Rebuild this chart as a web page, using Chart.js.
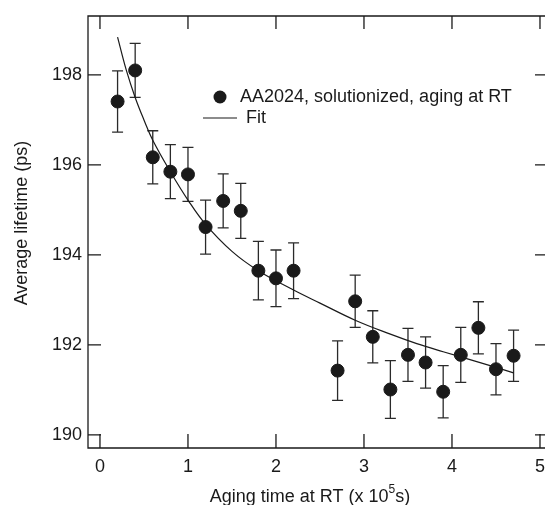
<!DOCTYPE html>
<html lang="en">
  <head>
    <meta charset="utf-8" />
    <title>Average lifetime vs aging time</title>
    <style>
      * {
        margin: 0;
        padding: 0;
      }
      body {
        background: white;
      }
      .chartBox {
        width: 545px;
        height: 505px;
      }
    </style>
  </head>
  <body>
    <div class="chartBox">
      <canvas id="myChart"></canvas>
    </div>

    <script src="https://cdn.jsdelivr.net/npm/chart.js@4.4.1/dist/chart.umd.min.js"></script>

    <script>
      // measured points (aging time in 1e5 s, lifetime in ps)
      const agingTime = [0.2, 0.4, 0.6, 0.8, 1.0, 1.2, 1.4, 1.6, 1.8, 2.0, 2.2,
        2.7, 2.9, 3.1, 3.3, 3.5, 3.7, 3.9, 4.1, 4.3, 4.5, 4.7];
      const lifetime = [197.41, 198.1, 196.17, 195.85, 195.79, 194.62, 195.2, 194.98, 193.65, 193.48, 193.65,
        191.43, 192.97, 192.18, 191.01, 191.78, 191.61, 190.96, 191.78, 192.38, 191.46, 191.76];
      const lifetimeErr = [0.68, 0.6, 0.59, 0.6, 0.6, 0.6, 0.6, 0.61, 0.65, 0.63, 0.62,
        0.66, 0.58, 0.58, 0.64, 0.59, 0.57, 0.58, 0.61, 0.58, 0.57, 0.57];

      // fit curve
      const fitTime = [0.2, 0.3, 0.4, 0.5, 0.6, 0.8, 1.0, 1.2, 1.5, 1.8, 2.2, 2.5, 2.9, 3.3, 3.6, 3.9, 4.3, 4.7];
      const fitLifetime = [198.84, 198.1, 197.5, 197.0, 196.55, 195.85, 195.22, 194.68, 194.08, 193.65,
        193.22, 192.93, 192.55, 192.24, 192.03, 191.85, 191.62, 191.38];

      const xTicks = [0, 1, 2, 3, 4, 5];
      const yTicks = [190, 192, 194, 196, 198];

      const seriesLabel = "AA2024, solutionized, aging at RT";
      const fitLabel = "Fit";

      const FONT = '"Liberation Sans", Arial, Helvetica, sans-serif';
      const SIZE = 18;
      const INK = "#1a1a1a";

      const data = {
        datasets: [
          {
            label: fitLabel,
            data: fitTime.map((x, i) => ({ x: x, y: fitLifetime[i] })),
            showLine: true,
            borderColor: INK,
            borderWidth: 1.2,
            pointRadius: 0,
            tension: 0.4,
            fill: false,
          },
          {
            label: seriesLabel,
            data: agingTime.map((x, i) => ({ x: x, y: lifetime[i] })),
            backgroundColor: INK,
            borderColor: INK,
            pointRadius: 6.5,
            pointHoverRadius: 6.5,
            showLine: false,
          },
        ],
      };

      // error bars drawn through the scales
      const errorBars = {
        id: "errorBars",
        beforeDatasetsDraw(chart) {
          const { ctx, scales } = chart;
          ctx.save();
          ctx.strokeStyle = "#2a2a2a";
          ctx.lineWidth = 1.3;
          agingTime.forEach((t, i) => {
            const x = scales.x.getPixelForValue(t);
            const yTop = scales.y.getPixelForValue(lifetime[i] + lifetimeErr[i]);
            const yBot = scales.y.getPixelForValue(lifetime[i] - lifetimeErr[i]);
            ctx.beginPath();
            ctx.moveTo(x, yTop);
            ctx.lineTo(x, yBot);
            ctx.moveTo(x - 5.5, yTop);
            ctx.lineTo(x + 5.5, yTop);
            ctx.moveTo(x - 5.5, yBot);
            ctx.lineTo(x + 5.5, yBot);
            ctx.stroke();
          });
          ctx.restore();
        },
      };

      // frame, inward ticks, axis titles and legend
      const frame = {
        id: "frame",
        afterDraw(chart) {
          const { ctx, chartArea: a, scales } = chart;
          ctx.save();
          ctx.strokeStyle = INK;
          ctx.lineWidth = 1.3;
          ctx.beginPath();
          ctx.moveTo(a.right, a.top);
          ctx.lineTo(a.left, a.top);
          ctx.lineTo(a.left, a.bottom);
          ctx.lineTo(a.right, a.bottom);
          xTicks.forEach((v) => {
            const x = scales.x.getPixelForValue(v);
            ctx.moveTo(x, a.bottom);
            ctx.lineTo(x, a.bottom - 14);
            ctx.moveTo(x, a.top);
            ctx.lineTo(x, a.top + 13);
          });
          yTicks.forEach((v) => {
            const y = scales.y.getPixelForValue(v);
            ctx.moveTo(a.left, y);
            ctx.lineTo(a.left + 13, y);
            ctx.moveTo(a.right, y);
            ctx.lineTo(a.right - 10, y);
          });
          ctx.stroke();

          ctx.fillStyle = INK;
          ctx.textBaseline = "alphabetic";

          // x title with superscript
          const p1 = "Aging time at RT (x 10";
          const p2 = "5";
          const p3 = "s)";
          ctx.font = SIZE + "px " + FONT;
          const w1 = ctx.measureText(p1).width;
          const w3 = ctx.measureText(p3).width;
          ctx.font = "12px " + FONT;
          const w2 = ctx.measureText(p2).width;
          const total = w1 + w2 + w3;
          const tx = 310 - total / 2;
          const base = 502;
          ctx.font = SIZE + "px " + FONT;
          ctx.textAlign = "left";
          ctx.fillText(p1, tx, base);
          ctx.font = "12px " + FONT;
          ctx.fillText(p2, tx + w1, base - 9);
          ctx.font = SIZE + "px " + FONT;
          ctx.fillText(p3, tx + w1 + w2, base);

          // y title
          ctx.save();
          ctx.translate(22, 223);
          ctx.rotate(-Math.PI / 2);
          ctx.textAlign = "center";
          ctx.textBaseline = "middle";
          ctx.fillText("Average lifetime (ps)", 0, 0);
          ctx.restore();

          // legend
          ctx.beginPath();
          ctx.arc(220, 97, 6.5, 0, Math.PI * 2);
          ctx.fill();
          ctx.beginPath();
          ctx.lineWidth = 1.2;
          ctx.moveTo(203, 118);
          ctx.lineTo(237, 118);
          ctx.stroke();
          ctx.textAlign = "left";
          ctx.textBaseline = "middle";
          ctx.fillText(seriesLabel, 240, 97);
          ctx.fillText(fitLabel, 246, 118);
          ctx.restore();
        },
      };

      const config = {
        type: "scatter",
        data: data,
        options: {
          responsive: true,
          maintainAspectRatio: false,
          animation: false,
          layout: {
            autoPadding: false,
            padding: { top: 16, right: 0, left: 0, bottom: 0 },
          },
          plugins: {
            legend: { display: false },
            tooltip: { enabled: false },
          },
          scales: {
            x: {
              type: "linear",
              min: -0.136,
              max: 5.057,
              afterFit: (s) => {
                s.height = 57;
                s.paddingLeft = 0;
                s.paddingRight = 0;
              },
              grid: { display: false, drawTicks: false },
              border: { display: false },
              ticks: {
                stepSize: 1,
                includeBounds: false,
                padding: 8,
                color: INK,
                font: { family: FONT, size: SIZE },
              },
            },
            y: {
              type: "linear",
              min: 189.71,
              max: 199.31,
              afterFit: (s) => {
                s.width = 88;
                s.paddingTop = 0;
                s.paddingBottom = 0;
              },
              grid: { display: false, drawTicks: false },
              border: { display: false },
              ticks: {
                stepSize: 2,
                includeBounds: false,
                padding: 6,
                color: INK,
                font: { family: FONT, size: SIZE },
              },
            },
          },
        },
        plugins: [errorBars, frame],
      };

      const myChart = new Chart(document.getElementById("myChart"), config);
    </script>
  </body>
</html>
